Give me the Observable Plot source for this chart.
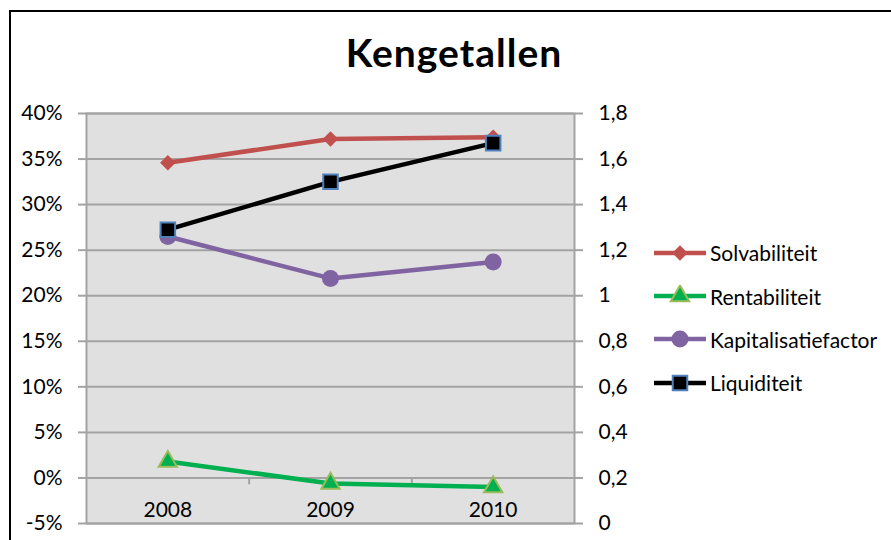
<!DOCTYPE html>
<html><head><meta charset="utf-8">
<script src="https://cdn.jsdelivr.net/npm/d3@7"></script>
<script src="https://cdn.jsdelivr.net/npm/@observablehq/plot@0.6"></script>
<style>
html,body{margin:0;padding:0;background:#fff;overflow:hidden}
#wrap{position:relative;width:891px;height:540px;overflow:hidden;font-family:Lato,sans-serif;color:#000}
#frame{position:absolute;left:9px;top:10px;width:1000px;height:1000px;border-left:2px solid #000;border-top:2px solid #000;box-sizing:border-box}
#chart{position:absolute;left:0;top:0}
#title{position:absolute;left:0;width:908px;top:32.5px;line-height:39px;text-align:center;font-weight:bold;font-size:39px;letter-spacing:1px}
#legend{position:absolute;left:654px;top:231px}
.row{display:flex;align-items:center;height:43.4px;font-size:21px;white-space:nowrap}
.row svg{display:block;margin-right:4px}
</style></head><body>
<div id="wrap"><div id="frame"></div><div id="chart"></div><div id="title">Kengetallen</div><div id="legend"></div></div>
<script>
const years = [2008, 2009, 2010];
const seriesNames = ["Solvabiliteit", "Rentabiliteit", "Kapitalisatiefactor", "Liquiditeit"];
const solvabiliteit = [34.6, 37.2, 37.4];        // %
const rentabiliteit = [1.8, -0.6, -1.0];         // %
const kapitalisatiefactor = [26.5, 21.9, 23.7];  // %
const liquiditeit = [1.29, 1.50, 1.67];          // right axis
const leftTicks = [-5, 0, 5, 10, 15, 20, 25, 30, 35, 40];
const rightTicks = [0, 0.2, 0.4, 0.6, 0.8, 1, 1.2, 1.4, 1.6, 1.8];

const leftDomain = [-5, 40];
const rightDomain = [0, 1.8];
const toLeft = v => leftDomain[0] + (v - rightDomain[0]) / (rightDomain[1] - rightDomain[0]) * (leftDomain[1] - leftDomain[0]);
const fromLeft = d => rightDomain[0] + (d - leftDomain[0]) / (leftDomain[1] - leftDomain[0]) * (rightDomain[1] - rightDomain[0]);
const fmtRight = d => String(Math.round(fromLeft(d) * 10) / 10).replace(".", ",");

const mk = (vals, conv = v => v) => years.map((y, i) => ({year: y, value: conv(vals[i])}));
const sSolv = mk(solvabiliteit);
const sRent = mk(rentabiliteit);
const sKap = mk(kapitalisatiefactor);
const sLiq = mk(liquiditeit, toLeft);
const boundaries = years.slice(1).map((y, i) => (y + years[i]) / 2);

const styles = {
  Solvabiliteit: {line: "#c0504d", symbol: "diamond2", r: 7, fill: "#c0504d", stroke: "none", sw: 0},
  Rentabiliteit: {line: "#00b050", symbol: "triangle", r: 6.8, fill: "#00b050", stroke: "#9bbb59", sw: 2},
  Kapitalisatiefactor: {line: "#8064a2", symbol: "circle", r: 8.5, fill: "#8064a2", stroke: "none", sw: 0},
  Liquiditeit: {line: "#000000", symbol: "square", r: 8.2, fill: "#000000", stroke: "#4f81bd", sw: 2}
};
const grid = "#a3a3a3";
const lineW = 4.5;
const fs = 21;

function seriesMarks(data, st) {
  return [
    Plot.line(data, {x: "year", y: "value", stroke: st.line, strokeWidth: lineW, strokeLinejoin: "round"}),
    Plot.dot(data, {x: "year", y: "value", symbol: st.symbol, r: st.r, fill: st.fill, stroke: st.stroke, strokeWidth: st.sw})
  ];
}

const chart = Plot.plot({
  width: 891, height: 540,
  marginLeft: 86, marginRight: 317, marginTop: 113, marginBottom: 17,
  style: {fontFamily: "Lato, sans-serif", fontSize: fs + "px", background: "transparent", overflow: "visible"},
  x: {domain: [years[0] - 0.5, years[years.length - 1] + 0.5], axis: null},
  y: {domain: leftDomain, axis: null},
  marks: [
    Plot.frame({fill: "#e0e0e0"}),
    Plot.ruleY(leftTicks, {stroke: grid, strokeWidth: 2}),
    Plot.frame({stroke: grid, strokeWidth: 2}),
    Plot.ruleX(boundaries, {x: d => d, y1: 0, y2: -0.75, stroke: grid, strokeWidth: 2}),
    ...seriesMarks(sSolv, styles.Solvabiliteit),
    ...seriesMarks(sRent, styles.Rentabiliteit),
    ...seriesMarks(sKap, styles.Kapitalisatiefactor),
    ...seriesMarks(sLiq, styles.Liquiditeit),
    Plot.text(years, {x: d => d, y: leftDomain[0], dy: -13, text: d => String(d), fill: "#000", fontSize: fs}),
    Plot.axisY({anchor: "left", ticks: leftTicks, tickFormat: d => d + "%", tickSize: 8, tickPadding: 16,
      stroke: grid, strokeWidth: 2, fill: "#000", fontSize: fs, label: null}),
    Plot.axisY({anchor: "right", ticks: rightTicks.map(toLeft), tickFormat: fmtRight, tickSize: 8, tickPadding: 16,
      stroke: grid, strokeWidth: 2, fill: "#000", fontSize: fs, label: null})
  ]
});
document.getElementById("chart").appendChild(chart);

// Legend
const legend = document.getElementById("legend");
const symMap = {diamond2: d3.symbolDiamond2, triangle: d3.symbolTriangle, circle: d3.symbolCircle, square: d3.symbolSquare};
seriesNames.forEach(name => {
  const st = styles[name];
  const row = document.createElement("div");
  row.className = "row";
  const svg = d3.create("svg").attr("width", 52).attr("height", 22);
  svg.append("line").attr("x1", 0).attr("x2", 52).attr("y1", 11).attr("y2", 11)
    .attr("stroke", st.line).attr("stroke-width", lineW).attr("stroke-linecap", "round");
  svg.append("path").attr("transform", "translate(26,11)")
    .attr("d", d3.symbol(symMap[st.symbol], st.r * st.r * Math.PI)())
    .attr("fill", st.fill).attr("stroke", st.stroke).attr("stroke-width", st.sw);
  row.appendChild(svg.node());
  const span = document.createElement("span");
  span.textContent = name;
  row.appendChild(span);
  legend.appendChild(row);
});
</script>
</body></html>
